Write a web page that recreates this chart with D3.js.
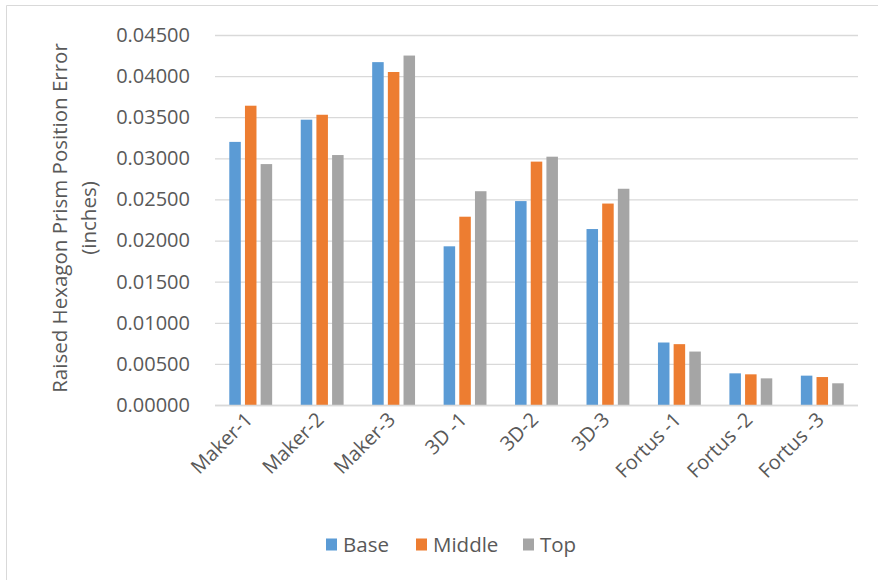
<!DOCTYPE html>
<html>
<head>
<meta charset="utf-8">
<script src="https://cdn.jsdelivr.net/npm/d3@7"></script>
<style>
  html, body { margin: 0; padding: 0; background: #fff; }
  svg { display: block; font-family: "Open Sans", "Noto Sans", sans-serif; }
</style>
</head>
<body>
<svg id="chart" width="878" height="580"></svg>
<script>
// Printer / layer measurements
const categories = ["Maker-1", "Maker-2", "Maker-3", "3D -1", "3D-2", "3D-3", "Fortus -1", "Fortus -2", "Fortus -3"];
const seriesNames = ["Base", "Middle", "Top"];
const baseValues   = [0.0320, 0.0347, 0.0417, 0.0193, 0.0248, 0.0214, 0.0076, 0.00385, 0.00357];
const middleValues = [0.0364, 0.0353, 0.0405, 0.0229, 0.0296, 0.0245, 0.0074, 0.00373, 0.00340];
const topValues    = [0.0293, 0.0304, 0.0425, 0.0260, 0.0302, 0.0263, 0.0065, 0.00324, 0.00264];
const yTicks = [0, 0.005, 0.01, 0.015, 0.02, 0.025, 0.03, 0.035, 0.04, 0.045];
const seriesColors = ["#5B9BD5", "#ED7D31", "#A5A5A5"];

const seriesValues = [baseValues, middleValues, topValues];
const rows = categories.map((c, i) => ({
  category: c,
  values: seriesNames.map((s, j) => ({ series: s, value: seriesValues[j][i] }))
}));

const svg = d3.select("#chart");
const textColor = "#595959";
const gridColor = "#D9D9D9";

// Chart frame (top and left edges)
svg.append("path")
  .attr("d", "M6.5,580 L6.5,5.5 L878,5.5")
  .attr("fill", "none")
  .attr("stroke", gridColor)
  .attr("stroke-width", 1);

const plot = { left: 215, right: 858, top: 35, bottom: 405 };

const y = d3.scaleLinear().domain([0, 0.045]).range([plot.bottom, plot.top]);
const x0 = d3.scaleBand().domain(categories).range([plot.left, plot.right])
  .paddingInner(0.4).paddingOuter(0.2);
const x1 = d3.scaleBand().domain(seriesNames).range([0, x0.bandwidth()])
  .paddingInner(0.265).paddingOuter(0);
const color = d3.scaleOrdinal().domain(seriesNames).range(seriesColors);

// Gridlines
const yAxis = d3.axisLeft(y).tickValues(yTicks).tickFormat(d3.format(".5f"))
  .tickSize(-(plot.right - plot.left)).tickPadding(25);
const gy = svg.append("g").attr("transform", `translate(${plot.left},0)`).call(yAxis);
gy.select(".domain").remove();
gy.selectAll(".tick line").attr("stroke", gridColor).attr("stroke-width", 1.3);
gy.selectAll(".tick text")
  .attr("fill", textColor)
  .style("font-size", "20px")
  .attr("font-family", "'Open Sans', sans-serif");

// Bars
const groups = svg.append("g").selectAll("g")
  .data(rows).join("g")
  .attr("transform", d => `translate(${x0(d.category)},0)`);
groups.selectAll("rect")
  .data(d => d.values).join("rect")
  .attr("x", d => x1(d.series))
  .attr("width", x1.bandwidth())
  .attr("y", d => y(d.value))
  .attr("height", d => y(0) - y(d.value))
  .attr("fill", d => color(d.series));

// Baseline
svg.append("line")
  .attr("x1", plot.left).attr("x2", plot.right)
  .attr("y1", y(0) + 0.5).attr("y2", y(0) + 0.5)
  .attr("stroke", gridColor).attr("stroke-width", 1.5);

// Category labels, rotated
const xAxis = d3.axisBottom(x0).tickSize(0).tickPadding(0);
const gx = svg.append("g").attr("transform", `translate(0,${plot.bottom})`).call(xAxis);
gx.select(".domain").remove();
gx.selectAll(".tick text")
  .attr("fill", textColor)
  .style("font-size", "20px")
  .attr("font-family", "'Open Sans', sans-serif")
  .attr("text-anchor", "end")
  .attr("dy", null)
  .attr("y", null)
  .attr("transform", "translate(3,16) rotate(-45)");

// Y axis title
const title = svg.append("text")
  .attr("transform", "translate(0,218) rotate(-90)")
  .attr("text-anchor", "middle")
  .attr("fill", textColor)
  .style("font-size", "20.5px");
title.append("tspan").attr("x", 0).attr("y", 67).text("Raised Hexagon Prism  Position Error");
title.append("tspan").attr("x", 0).attr("y", 96).text("(inches)");

// Legend
const legendItems = [
  { name: "Base", x: 326 },
  { name: "Middle", x: 416 },
  { name: "Top", x: 523 }
];
const legend = svg.append("g");
const li = legend.selectAll("g").data(legendItems).join("g")
  .attr("transform", d => `translate(${d.x},545)`);
li.append("rect")
  .attr("x", 0).attr("y", -6.5).attr("width", 11).attr("height", 12)
  .attr("fill", d => color(d.name));
li.append("text")
  .attr("x", 17).attr("y", 0).attr("dy", "0.35em")
  .attr("fill", textColor)
  .style("font-size", "20.5px")
  .text(d => d.name);
</script>
</body>
</html>
